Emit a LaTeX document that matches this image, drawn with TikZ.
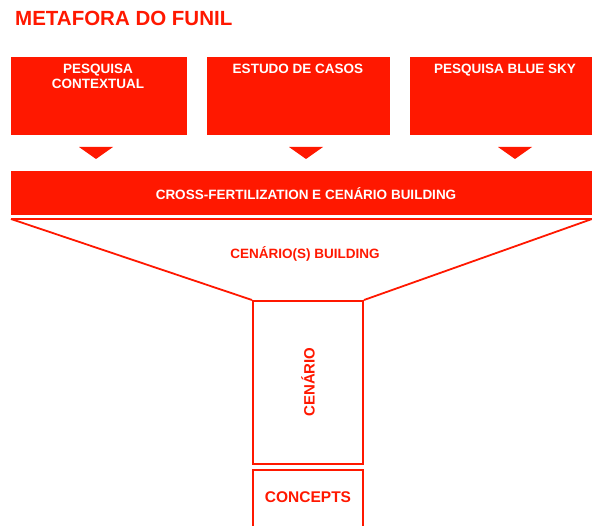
\documentclass[tikz,border=0pt]{standalone}
\usepackage{fontspec}
\setmainfont{Liberation Sans}
\definecolor{fred}{RGB}{255,24,0}
\tikzset{
  redbox/.style={draw=none, fill=fred, inner sep=0pt, anchor=north west},
  boxtext/.style={text=white, font=\bfseries\fontsize{13.5}{15}\selectfont, align=center, anchor=base, inner sep=0pt},
  outbox/.style={draw=fred, line width=2pt, fill=none, inner sep=0pt, anchor=north west},
  redtext/.style={text=fred, font=\bfseries\fontsize{13.5}{15}\selectfont, anchor=base, inner sep=0pt},
  arrowtri/.style={fill=fred},
  funnel/.style={draw=fred, line width=1.8pt}
}
\begin{document}
\begin{tikzpicture}[x=1pt,y=-1pt]
\clip (0,0) rectangle (592,526);
\fill[white] (0,0) rectangle (592,526);
% title
\node[text=fred, font=\bfseries\fontsize{20.5}{24}\selectfont, anchor=base west, inner sep=0pt] (title) at (15,26) {METAFORA DO FUNIL};
% top boxes
\node[redbox, minimum width=176pt, minimum height=78pt] (b1) at (11,57) {};
\node[redbox, minimum width=183pt, minimum height=78pt] (b2) at (207,57) {};
\node[redbox, minimum width=182pt, minimum height=78pt] (b3) at (410,57) {};
\node[boxtext] (t1) at (98,89) {PESQUISA\\CONTEXTUAL};
\node[boxtext] (t2) at (298,74) {ESTUDO DE CASOS};
\node[boxtext] (t3) at (505,74) {PESQUISA BLUE SKY};
% triangles
\foreach \n/\cx in {1/96,2/306,3/515}{
  \coordinate (tri\n) at (\cx,147);
  \fill[arrowtri] ([xshift=-17pt]tri\n) -- ([xshift=17pt]tri\n) -- ([yshift=-12pt]tri\n) -- cycle;
}
% wide bar
\node[redbox, minimum width=581pt, minimum height=44pt] (bar) at (11,171) {};
\node[boxtext] (bart) at (306,200) {CROSS-FERTILIZATION E CENÁRIO BUILDING};
% funnel
\node[outbox, minimum width=110pt, minimum height=163pt] (cen) at (252,300) {};
\coordinate (fl) at (11,219);
\coordinate (fr) at (592,219);
\draw[funnel] (fl) -- (fr);
\draw[funnel] (fl) -- (cen.north west);
\draw[funnel] (fr) -- (cen.north east);
\node[redtext] (cbt) at (305,259) {CENÁRIO(S) BUILDING};
\node[text=fred, font=\bfseries\fontsize{15}{18}\selectfont, rotate=90, inner sep=0pt] (cent) at (308,382) {CENÁRIO};
% concepts
\node[outbox, minimum width=110pt, minimum height=70pt] (con) at (252,469) {};
\node[text=fred, font=\bfseries\fontsize{15.5}{18}\selectfont, anchor=base, inner sep=0pt] (cont) at (308,502) {CONCEPTS};
\end{tikzpicture}
\end{document}
